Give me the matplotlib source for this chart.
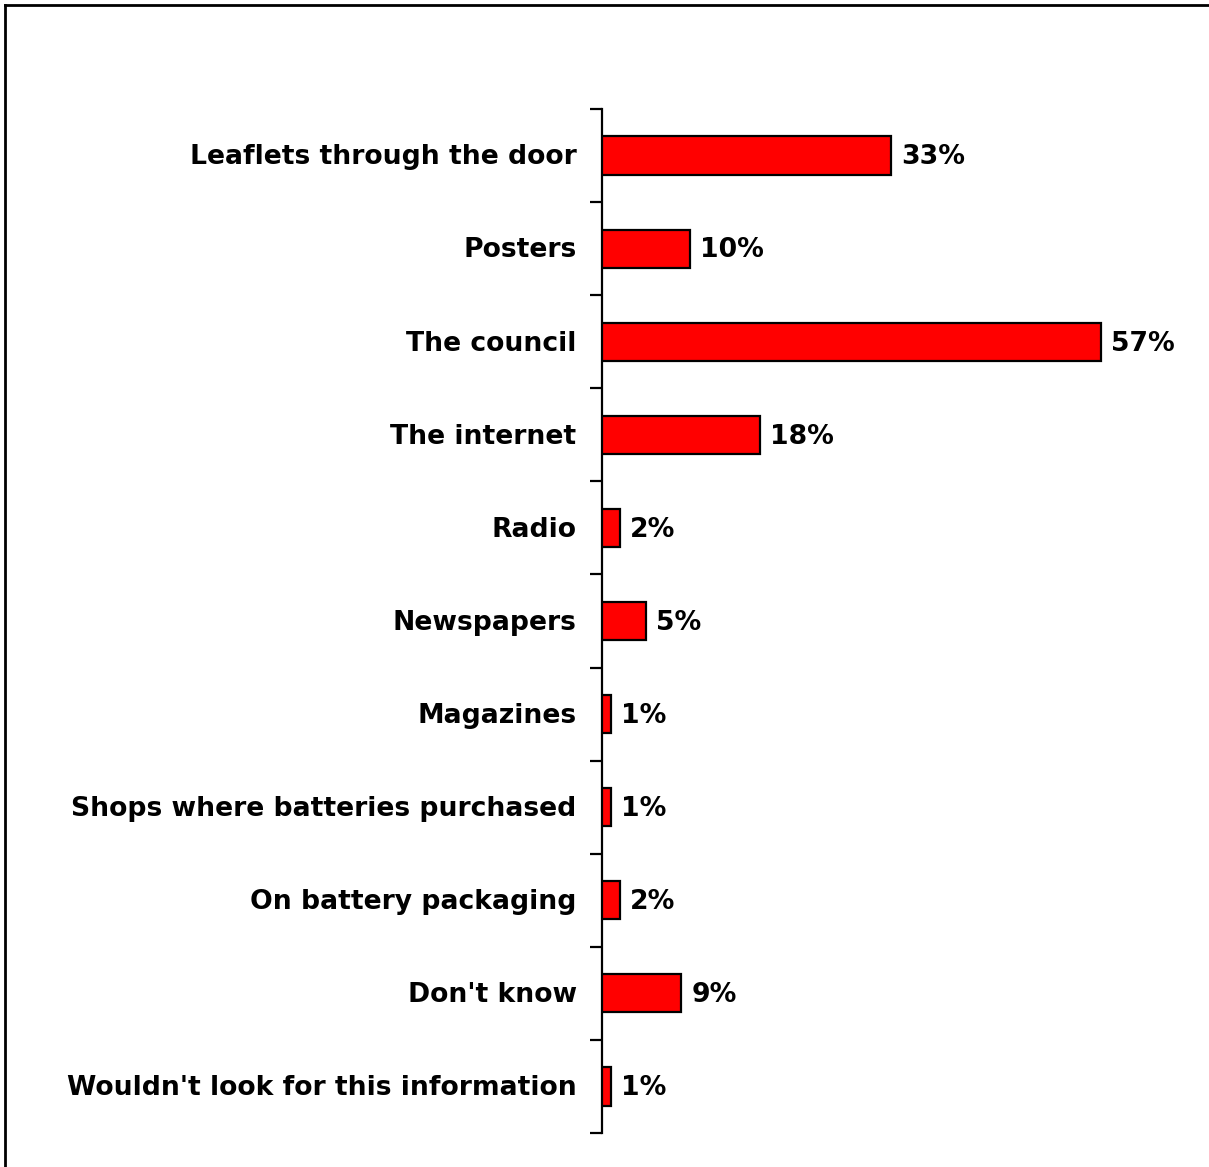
import matplotlib
matplotlib.use('Agg')
import matplotlib.pyplot as plt
from matplotlib.lines import Line2D
import numpy as np

categories = [
    "Leaflets through the door",
    "Posters",
    "The council",
    "The internet",
    "Radio",
    "Newspapers",
    "Magazines",
    "Shops where batteries purchased",
    "On battery packaging",
    "Don't know",
    "Wouldn't look for this information",
]
values = [33, 10, 57, 18, 2, 5, 1, 1, 2, 9, 1]

W, H = 1209, 1167
fig = plt.figure(figsize=(W / 100, H / 100), dpi=100, facecolor="white")

# axes placed in pixel terms: spine at x=602, ticks from y=109 to y=1133
left, right = 602 / W, 1127 / W
top, bottom = 1 - 109 / H, 1 - 1133 / H
ax = fig.add_axes([left, bottom, right - left, top - bottom])

y = np.arange(len(categories))
ax.barh(y, values, height=0.41, color="#ff0000", edgecolor="black", linewidth=1.6, zorder=3)

ax.set_xlim(0, 60)
ax.set_ylim(len(categories) - 0.5, -0.5)

# category names as text, ticks sit between categories
ax.set_yticks(np.arange(-0.5, len(categories), 1.0))
ax.set_yticklabels([])
ax.tick_params(axis="y", direction="out", length=9, width=1.6, color="black")
for i, name in enumerate(categories):
    ax.text(-2.9, i + 0.02, name, ha="right", va="center", fontsize=19.2,
            fontweight="bold", color="black", family="DejaVu Sans")
for i, v in enumerate(values):
    ax.text(v + 1.2, i + 0.02, f"{v}%", ha="left", va="center", fontsize=19.2,
            fontweight="bold", color="black", family="DejaVu Sans")

ax.set_xticks([])
for side in ["top", "right", "bottom"]:
    ax.spines[side].set_visible(False)
ax.spines["left"].set_linewidth(1.6)
ax.patch.set_alpha(0)

# frame along the top and left edge of the picture
fig.add_artist(Line2D([5 / W, 1.0], [1 - 4.5 / H, 1 - 4.5 / H], color="black", linewidth=2,
                      transform=fig.transFigure))
fig.add_artist(Line2D([5 / W, 5 / W], [0.0, 1 - 4.5 / H], color="black", linewidth=2,
                      transform=fig.transFigure))

fig.savefig("out.png", dpi=100, facecolor="white")
